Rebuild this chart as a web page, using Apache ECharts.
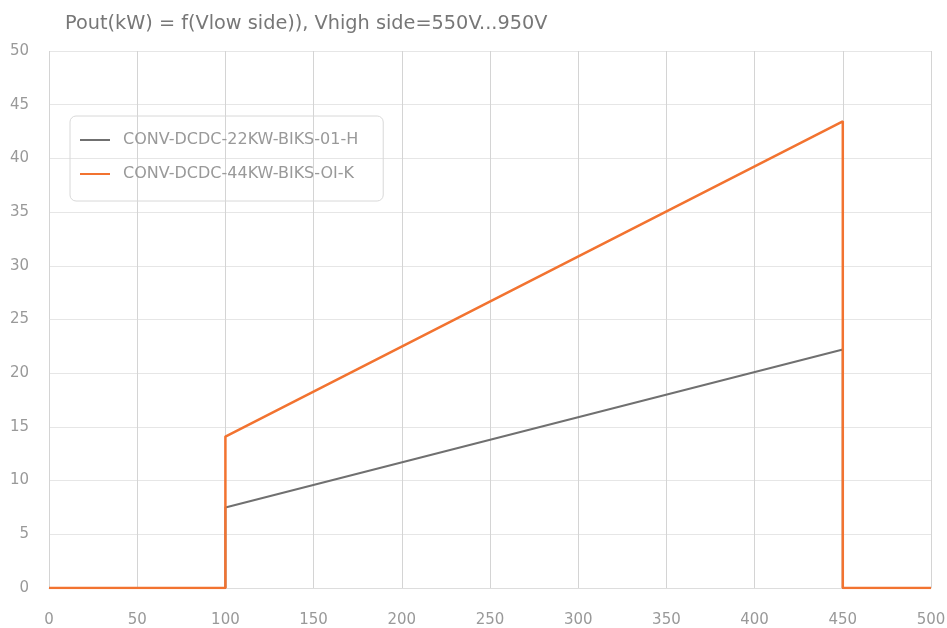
<!DOCTYPE html>
<html lang="en">
  <head>
    <meta charset="UTF-8" />
    <title>Pout</title>
    <script src="https://cdn.jsdelivr.net/npm/echarts@6/dist/echarts.min.js"></script>
    <style>
      body { margin: 0; }
    </style>
  </head>
  <body>
    <div id="chart" style="width: 947px; height: 628px"></div>
    <script>
      const seriesNames = ['CONV-DCDC-22KW-BIKS-01-H', 'CONV-DCDC-44KW-BIKS-OI-K'];
      // [Vlow side, Pout kW]
      const data22kw = [[0, 0], [100, 0], [100, 7.5], [450, 22.2], [450, 0], [500, 0]];
      const data44kw = [[0, 0], [100, 0], [100, 14.1], [450, 43.45], [450, 0], [500, 0]];

      let myCharts = echarts.init(document.getElementById('chart'));
      let font = '"DejaVu Sans", sans-serif';
      let option = {
        animation: false,
        textStyle: { fontFamily: font },
        title: {
          text: 'Pout(kW) = f(Vlow side)), Vhigh side=550V...950V',
          left: 60,
          top: 9,
          textStyle: { fontSize: 19.3, fontWeight: 'normal', color: '#777', fontFamily: font },
        },
        legend: {
          orient: 'vertical',
          left: 70,
          top: 116,
          padding: [16, 25, 19, 10],
          itemGap: 18,
          itemWidth: 30,
          itemHeight: 2,
          borderColor: '#d8d8d8',
          borderWidth: 1,
          borderRadius: 6,
          icon: 'rect',
          textStyle: { fontSize: 16, color: '#999', fontFamily: font, padding: [0, 0, 0, 8] },
          data: seriesNames,
        },
        grid: { left: 49, right: 16, top: 51, bottom: 40, outerBoundsMode: 'none' },
        xAxis: {
          type: 'value',
          min: 0,
          max: 500,
          interval: 50,
          axisLine: { show: true, lineStyle: { color: '#ddd' } },
          axisTick: { show: false },
          axisLabel: { color: '#999', fontSize: 15, margin: 25 },
          splitLine: { lineStyle: { color: '#d4d4d4' } },
        },
        yAxis: {
          type: 'value',
          min: 0,
          max: 50,
          interval: 5,
          axisLine: { show: false },
          axisTick: { show: false },
          axisLabel: { color: '#999', fontSize: 15, margin: 20 },
          splitLine: { lineStyle: { color: '#e6e6e6' } },
        },
        series: [
          {
            name: seriesNames[0],
            type: 'line',
            data: data22kw,
            symbol: 'none',
            color: '#707070',
            lineStyle: { width: 2, color: '#707070' },
          },
          {
            name: seriesNames[1],
            type: 'line',
            data: data44kw,
            symbol: 'none',
            color: '#f27330',
            lineStyle: { width: 2.5, color: '#f27330' },
          },
        ],
      };
      myCharts.setOption(option);
    </script>
  </body>
</html>
